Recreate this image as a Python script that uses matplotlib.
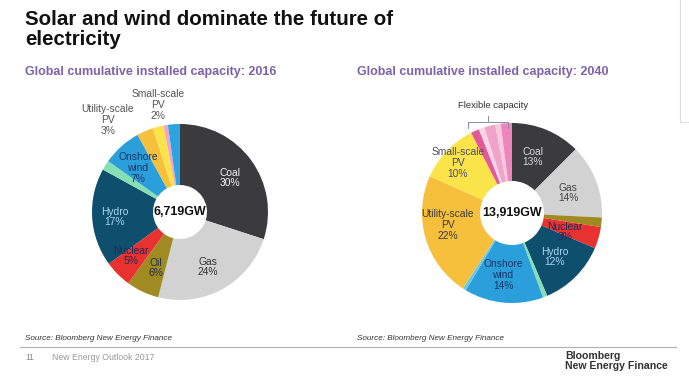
import matplotlib
matplotlib.use("Agg")
import matplotlib.pyplot as plt
from matplotlib import rcParams
import numpy as np

rcParams['font.family'] = ['Liberation Sans', 'DejaVu Sans']

# ---- data ----
cats_2016 = ["Coal", "Gas", "Oil", "Nuclear", "Hydro", "Other", "Onshore wind",
             "Utility-scale PV", "Small-scale PV", "Flexible capacity", "Other 2"]
vals_2016 = [30, 24, 6, 5, 18, 1.8, 7.2, 3, 2, 0.8, 2.2]
cols_2016 = ["#3b3a3c", "#d2d2d2", "#a08a22", "#e8322f", "#0f4f6e", "#86dfb2",
             "#2a9fdc", "#f6bf3c", "#fbe34a", "#f2a3c9", "#2ba4e0"]

cats_2040 = ["Coal", "Gas", "Oil", "Nuclear", "Hydro", "Other", "Onshore wind",
             "Offshore wind", "Utility-scale PV", "Small-scale PV",
             "Flex 1", "Flex 2", "Flex 3", "Flex 4", "Flex 5"]
vals_2040 = [12.5, 13.3, 1.7, 3.9, 12.2, 0.8, 14.2, 0.6, 22.5, 10.8,
             1.5, 1.0, 2.0, 1.0, 2.0]
cols_2040 = ["#3b3a3c", "#d2d2d2", "#a08a22", "#e8322f", "#0f4f6e", "#86dfb2",
             "#2a9fdc", "#6cc8e8", "#f6bf3c", "#fbe34a",
             "#e4589a", "#f9d6e6", "#f2a3c9", "#f8c8de", "#ec86bc"]

total_2016 = "6,719GW"
total_2040 = "13,919GW"

# labels: text, (x, y) in pie units, colour
labels_2016 = [
    ("Coal\n30%", (0.50, 0.34), "#f4f4f4"),
    ("Gas\n24%", (0.28, -0.55), "#333333"),
    ("Oil\n6%", (-0.24, -0.56), "#1f2d4d"),
    ("Nuclear\n5%", (-0.49, -0.44), "#1f2a5c"),
    ("Hydro\n17%", (-0.65, -0.05), "#a8d6ee"),
    ("Onshore\nwind\n7%", (-0.42, 0.44), "#1a3563"),
    ("Utility-scale\nPV\n3%", (-0.72, 0.92), "#555555"),
    ("Small-scale\nPV\n2%", (-0.22, 1.07), "#555555"),
]
labels_2040 = [
    ("Coal\n13%", (0.21, 0.56), "#d8d8d8"),
    ("Gas\n14%", (0.56, 0.20), "#444444"),
    ("Nuclear\n3%", (0.53, -0.19), "#1f2a5c"),
    ("Hydro\n12%", (0.43, -0.44), "#a8d6ee"),
    ("Onshore\nwind\n14%", (-0.09, -0.62), "#1a3563"),
    ("Utility-scale\nPV\n22%", (-0.64, -0.12), "#3a3a3a"),
    ("Small-scale\nPV\n10%", (-0.54, 0.50), "#4a4a6a"),
]

W, H = 689, 382
fig = plt.figure(figsize=(W / 100, H / 100), dpi=100)

# background axes in pixel coordinates (y down)
bg = fig.add_axes([0, 0, 1, 1])
bg.set_xlim(0, W)
bg.set_ylim(H, 0)
bg.axis("off")


def donut(cx, cy, r, hole, vals, cols, labels, total):
    ax = fig.add_axes([(cx - 100) / W, (H - cy - 100) / H, 200 / W, 200 / H])
    wedges, _ = ax.pie(vals, colors=cols, startangle=90, counterclock=False,
                       radius=r, wedgeprops=dict(width=r - hole, linewidth=0))
    ax.set_xlim(-1, 1)
    ax.set_ylim(-1, 1)
    ax.set_aspect("equal")
    ax.axis("off")
    for txt, (x, y), c in labels:
        ax.text(x, y, txt, ha="center", va="center", fontsize=7.4, color=c,
                linespacing=1.1)
    ax.text(0, 0, total, ha="center", va="center", fontsize=9,
            fontweight="bold", color="#111111")
    return ax, wedges


ax1, w1 = donut(180, 212, 0.88, 0.27, vals_2016, cols_2016, labels_2016, total_2016)
ax2, w2 = donut(512, 213, 0.90, 0.32, vals_2040, cols_2040, labels_2040, total_2040)

# flexible capacity bracket over the pink wedges
th1 = np.deg2rad(w2[10].theta2)
bx0 = 0.9 * np.cos(th1) - 0.03
bx1 = -0.04
ax2.plot([bx0, bx0, bx1, bx1], [0.85, 0.91, 0.91, 0.85], color="#8a8aa8", lw=0.7,
         clip_on=False)
ax2.plot([-0.24, -0.24], [0.91, 0.97], color="#8a8aa8", lw=0.7, clip_on=False)
ax2.text(-0.19, 1.07, "Flexible capacity", ha="center", va="center",
         fontsize=6.8, color="#333333")

# titles
bg.text(25, 10, "Solar and wind dominate the future of\nelectricity", ha="left",
        va="top", fontsize=14.8, fontweight="bold", color="#111111",
        linespacing=1.08)
bg.text(25, 72, "Global cumulative installed capacity: 2016", ha="left",
        va="center", fontsize=9, fontweight="bold", color="#7d62a8")
bg.text(357, 72, "Global cumulative installed capacity: 2040", ha="left",
        va="center", fontsize=9, fontweight="bold", color="#7d62a8")

# footer
bg.text(25, 338, "Source: Bloomberg New Energy Finance", ha="left", va="center",
        fontsize=5.9, style="italic", color="#333333")
bg.text(357, 338, "Source: Bloomberg New Energy Finance", ha="left", va="center",
        fontsize=5.9, style="italic", color="#333333")
bg.plot([20, 676], [347, 347], color="#b0b0b0", lw=0.8)
bg.text(25, 357, "11", ha="left", va="center", fontsize=6.2, color="#888888")
bg.text(52, 357, "New Energy Outlook 2017", ha="left", va="center",
        fontsize=6.3, color="#999999")
bg.text(565, 361, "Bloomberg\nNew Energy Finance", ha="left", va="center",
        fontsize=7.6, fontweight="bold", color="#333333", linespacing=1.0)

# faint frame in the top right corner
bg.plot([680, 680, W], [0, 122, 122], color="#dddddd", lw=0.8)

fig.savefig("out.png", dpi=100)
